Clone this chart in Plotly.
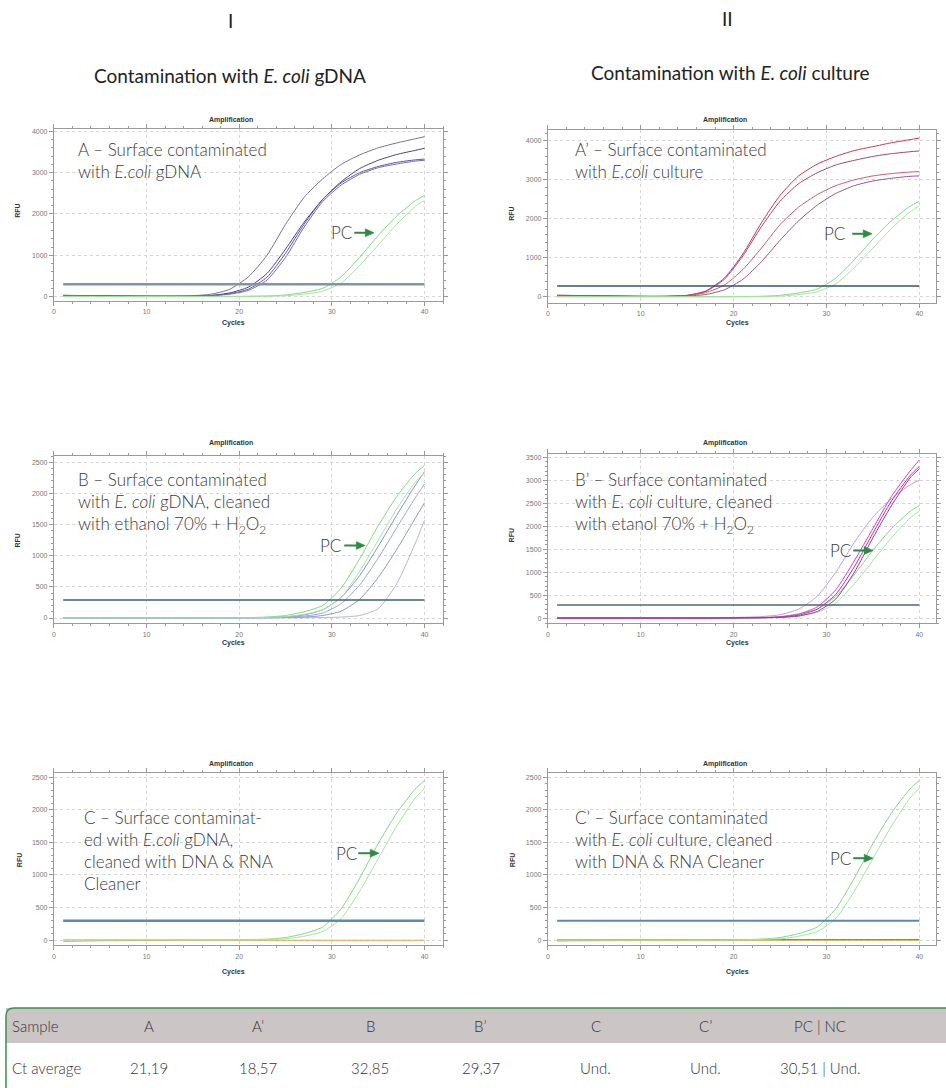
import plotly.graph_objects as go

W, H = 946, 1088

# ---------------- data ----------------
cycles = [1, 3, 5, 7, 9, 11, 13, 15, 17, 19, 21, 23, 25, 27, 29, 31, 33, 35, 37, 39, 40]

# positive control (same in every run)
pc_1 = [5, 5, 5, 5, 5, 5, 5, 5, 5, 5, 8, 15, 40, 100, 200, 480, 950, 1480, 1950, 2320, 2450]
pc_2 = [3, 3, 3, 3, 3, 3, 3, 3, 3, 3, 5, 10, 20, 60, 130, 330, 750, 1250, 1750, 2180, 2330]

# A - gDNA contaminated
a_1 = [30, 25, 20, 15, 12, 10, 10, 20, 60, 180, 480, 1000, 1750, 2400, 2850, 3200, 3430, 3600, 3720, 3820, 3870]
a_2 = [30, 25, 20, 15, 12, 10, 10, 12, 30, 90, 230, 560, 1150, 1800, 2350, 2780, 3100, 3300, 3440, 3540, 3590]
a_3 = [25, 22, 18, 14, 10, 8, 8, 10, 25, 70, 180, 470, 1050, 1750, 2350, 2750, 3000, 3150, 3250, 3310, 3330]
a_4 = [25, 22, 18, 14, 10, 8, 8, 10, 20, 60, 150, 400, 950, 1680, 2300, 2700, 2960, 3120, 3210, 3280, 3300]

# A' - culture contaminated
ap_1 = [40, 35, 30, 22, 15, 12, 15, 40, 150, 480, 1100, 1900, 2600, 3100, 3400, 3600, 3750, 3850, 3950, 4030, 4070]
ap_2 = [40, 35, 30, 22, 15, 12, 15, 38, 140, 450, 1050, 1800, 2450, 2900, 3180, 3380, 3500, 3600, 3670, 3720, 3740]
ap_3 = [30, 28, 25, 20, 15, 12, 14, 30, 110, 300, 700, 1250, 1850, 2300, 2620, 2850, 3000, 3100, 3160, 3200, 3210]
ap_4 = [30, 28, 25, 20, 15, 12, 14, 25, 60, 180, 450, 900, 1450, 1950, 2350, 2650, 2850, 2970, 3040, 3090, 3100]

# B - gDNA, ethanol + H2O2
b_1 = [5, 5, 5, 5, 5, 5, 5, 5, 5, 5, 5, 10, 20, 50, 130, 330, 680, 1150, 1650, 2130, 2350]
b_2 = [4, 4, 4, 4, 4, 4, 4, 4, 4, 4, 4, 6, 12, 30, 80, 230, 530, 960, 1450, 1930, 2150]
b_3 = [3, 3, 3, 3, 3, 3, 3, 3, 3, 3, 3, 4, 8, 15, 40, 110, 300, 650, 1100, 1600, 1850]
b_4 = [2, 2, 2, 2, 2, 2, 2, 2, 2, 2, 2, 2, 3, 5, 8, 15, 40, 150, 550, 1200, 1570]

# B' - culture, ethanol + H2O2
bp_1 = [10, 10, 10, 10, 10, 10, 10, 10, 10, 15, 25, 40, 80, 200, 480, 1000, 1650, 2200, 2600, 2900, 3000]
bp_2 = [10, 10, 10, 10, 10, 10, 10, 10, 10, 12, 15, 20, 35, 90, 250, 620, 1250, 1950, 2650, 3200, 3440]
bp_3 = [8, 8, 8, 8, 8, 8, 8, 8, 8, 10, 12, 16, 28, 70, 200, 520, 1120, 1850, 2550, 3100, 3300]
bp_4 = [6, 6, 6, 6, 6, 6, 6, 6, 6, 8, 10, 13, 22, 50, 150, 420, 1000, 1750, 2450, 3050, 3250]

# C / C' - cleaned with DNA & RNA Cleaner (no amplification)
c_1 = [-20, -15, -10, -8, -6, -5, -4, -4, -3, -3, -2, -2, -2, -2, -2, -2, -2, -2, -2, -2, -2]
cp_1 = [-15, -12, -10, -8, -6, -5, -4, -4, -3, -3, -2, -2, -2, -2, -2, -2, -2, -2, -2, -2, -2]
cp_2 = [5, 5, 5, 5, 5, 5, 5, 5, 5, 5, 5, 5, 5, 5, 5, 5, 5, 5, 5, 5, 5]

# thresholds (RFU) per panel A, A', B, B', C, C'
thresholds = [300, 280, 290, 290, 296, 296]
thr_cycles = [1, 40]

# table
table_header = ["Sample", "A", "A\u2019", "B", "B\u2019", "C", "C\u2019", "PC | NC"]
table_ct = ["Ct average", "21,19", "18,57", "32,85", "29,37", "Und.", "Und.", "30,51 | Und."]

# ---------------- layout helpers ----------------
def fx(px):
    return px / W


def fy(py):
    return 1 - py / H


GREEN1, GREEN2 = "#7fd87f", "#a4e4a0"

panels = [
    dict(x0=52, x1=442, y0=128, y1=300, xr=[0, 42], yr=[-100, 4060], ydt=1000, ymn=200,
         thr_col="#7d95ad", thr_w=2.5,
         series=[(a_1, "#7b6e9e"), (a_2, "#4a3f8a"), (a_3, "#5e50a8"), (a_4, "#7566b4"),
                 (pc_1, GREEN1), (pc_2, GREEN2)]),
    dict(x0=547, x1=936, y0=129, y1=302, xr=[0, 41.8], yr=[-150, 4280], ydt=1000, ymn=200,
         thr_col="#35566a", thr_w=1.5,
         series=[(ap_1, "#c8384f"), (ap_2, "#a24672"), (ap_3, "#d25868"), (ap_4, "#925690"),
                 (pc_1, GREEN1), (pc_2, GREEN2)]),
    dict(x0=52, x1=442, y0=455, y1=623, xr=[0, 42], yr=[-87, 2607], ydt=500, ymn=100,
         thr_col="#3c6070", thr_w=1.5,
         series=[(b_4, "#b8b4d8"), (b_3, "#8a94d8"), (b_2, "#9aa2e8"), (b_1, "#7f8fe0"),
                 (pc_1, GREEN1), (pc_2, GREEN2)]),
    dict(x0=547, x1=936, y0=453, y1=623, xr=[0, 41.8], yr=[-109, 3580], ydt=500, ymn=100,
         thr_col="#4a6a78", thr_w=1.5,
         series=[(pc_1, GREEN1), (pc_2, GREEN2), (bp_1, "#c79ad8"), (bp_2, "#d43fc8"),
                 (bp_3, "#c02cb0"), (bp_4, "#8e3d9e")]),
    dict(x0=52, x1=442, y0=773, y1=945, xr=[0, 42], yr=[-77, 2560], ydt=500, ymn=100,
         thr_col="#5d8aa5", thr_w=2.5,
         series=[(c_1, "#e6a23c"), (pc_1, GREEN1), (pc_2, GREEN2)]),
    dict(x0=547, x1=936, y0=773, y1=945, xr=[0, 41.8], yr=[-77, 2560], ydt=500, ymn=100,
         thr_col="#5d8aa5", thr_w=2,
         series=[(cp_2, "#333333"), (cp_1, "#e0c040"), (pc_1, GREEN1), (pc_2, GREEN2)]),
]

fig = go.Figure()
layout = dict(width=W, height=H, margin=dict(l=0, r=0, t=0, b=0),
              paper_bgcolor="white", plot_bgcolor="white", showlegend=False)

TICKFONT = dict(family="Liberation Sans, Arial", size=7, color="#777")

for i, p in enumerate(panels):
    k = "" if i == 0 else str(i + 1)
    xa, ya = "x" + k, "y" + k
    for ys, col in p["series"]:
        fig.add_trace(go.Scatter(x=cycles, y=ys, mode="lines", xaxis=xa, yaxis=ya,
                                 line=dict(color=col, width=1, shape="spline", smoothing=0.6),
                                 hoverinfo="skip"))
    fig.add_trace(go.Scatter(x=thr_cycles, y=[thresholds[i], thresholds[i]], mode="lines",
                             xaxis=xa, yaxis=ya,
                             line=dict(color=p["thr_col"], width=p["thr_w"]), hoverinfo="skip"))
    layout["xaxis" + k] = dict(
        domain=[fx(p["x0"]), fx(p["x1"])], anchor=ya, range=p["xr"],
        tickmode="array", tickvals=[0, 10, 20, 30, 40], ticks="outside", ticklen=4,
        tickcolor="#999", tickfont=TICKFONT,
        minor=dict(dtick=2, tick0=0, ticks="outside", ticklen=2, tickcolor="#999", showgrid=False),
        showgrid=True, gridcolor="#d6d6d6", griddash="dot", gridwidth=1,
        showline=True, linecolor="#9a9a9a", linewidth=1, mirror="ticks", zeroline=False,
    )
    layout["yaxis" + k] = dict(
        domain=[fy(p["y1"]), fy(p["y0"])], anchor=xa, range=p["yr"],
        tick0=0, dtick=p["ydt"], ticks="outside", ticklen=4, tickcolor="#999",
        tickfont=TICKFONT,
        minor=dict(dtick=p["ymn"], tick0=0, ticks="outside", ticklen=2, tickcolor="#999", showgrid=False),
        showgrid=True, gridcolor="#d6d6d6", griddash="dot", gridwidth=1,
        showline=True, linecolor="#9a9a9a", linewidth=1, mirror="ticks", zeroline=False,
    )

annotations = []
shapes = []

SMALL = dict(family="Liberation Sans, Arial", size=7, color="#333")
LABEL = dict(family="Lato", size=17, color="#3a3a3a", weight=300)
HEAD = dict(family="Lato", size=19, color="#222")


def ann(text, x, y, font, xanchor="center", yanchor="middle", **kw):
    annotations.append(dict(text=text, x=fx(x), y=fy(y), xref="paper", yref="paper",
                            xanchor=xanchor, yanchor=yanchor, showarrow=False, font=font,
                            align="left", **kw))


# headers
ann("I", 229, 20, dict(family="Lato", size=19, color="#222"))
ann("II", 727, 18, dict(family="Lato", size=19, color="#222"))
ann("Contamination with <i>E. coli</i> gDNA", 228, 75, HEAD)
ann("Contamination with <i>E. coli</i> culture", 730, 72, HEAD)

# small chart texts
amp_pos = [(229, 119), (725, 119), (229, 442), (725, 442), (229, 764), (725, 764)]
rfu_pos = [(16, 210), (511, 213), (16, 540), (511, 535), (17, 860), (511, 860)]
cyc_pos = [(232, 322), (737, 322), (232, 643), (737, 643), (232, 972), (737, 972)]
for (ax_, ay_), (rx, ry), (cx, cy) in zip(amp_pos, rfu_pos, cyc_pos):
    ann("<b>Amplification</b>", ax_, ay_, SMALL)
    ann("<b>RFU</b>", rx, ry, SMALL, textangle=-90)
    ann("<b>Cycles</b>", cx, cy, SMALL)

# panel descriptions
ann("A \u2013 Surface contaminated<br>with <i>E.coli</i> gDNA", 74, 136, LABEL, xanchor="left", yanchor="top")
ann("A\u2019 \u2013 Surface contaminated<br>with <i>E.coli</i> culture", 572, 136, LABEL, xanchor="left", yanchor="top")
ann("B \u2013 Surface contaminated<br>with <i>E. coli</i> gDNA, cleaned<br>with ethanol 70% + H<sub>2</sub>O<sub>2</sub>",
    74, 466, LABEL, xanchor="left", yanchor="top")
ann("B\u2019 \u2013 Surface contaminated<br>with <i>E. coli</i> culture, cleaned<br>with etanol 70% + H<sub>2</sub>O<sub>2</sub>",
    572, 466, LABEL, xanchor="left", yanchor="top")
ann("C \u2013 Surface contaminat-<br>ed with <i>E.coli</i> gDNA,<br>cleaned with DNA & RNA<br>Cleaner",
    80, 805, LABEL, xanchor="left", yanchor="top")
ann("C\u2019 \u2013 Surface contaminated<br>with <i>E. coli</i> culture, cleaned<br>with DNA & RNA Cleaner",
    572, 805, LABEL, xanchor="left", yanchor="top")

# PC labels with arrows (arrows drawn as shapes)
ARROW = "#2e8b43"
pc_labels = [(340, 232, 353, 373), (834, 233, 852, 872), (329, 545, 343, 364),
             (840, 550, 853, 873), (345, 853, 357, 378), (840, 858, 853, 873)]
for tx, ty, t0, t1 in pc_labels:
    ann("PC", tx, ty, dict(family="Lato", size=17, color="#3a3a3a", weight=300))
    shapes.append(dict(type="line", xref="paper", yref="paper", x0=fx(t0), x1=fx(t1 - 7),
                       y0=fy(ty), y1=fy(ty), line=dict(color=ARROW, width=2)))
    tri = f"M {fx(t1 - 9)},{fy(ty - 4)} L {fx(t1)},{fy(ty)} L {fx(t1 - 9)},{fy(ty + 4)} Z"
    shapes.append(dict(type="path", xref="paper", yref="paper", path=tri,
                       fillcolor=ARROW, line=dict(color=ARROW, width=0.5)))

# table
TOP, MID, BOT = 1008, 1043, 1100
L, R, RAD = 4, 960, 8
shapes.append(dict(type="rect", xref="paper", yref="paper", x0=fx(L), x1=fx(R), y0=fy(MID), y1=fy(TOP),
                   fillcolor="#cbc5c5", line=dict(width=0), layer="below"))
path = (f"M {fx(R)},{fy(TOP)} L {fx(L + RAD)},{fy(TOP)} "
        f"Q {fx(L)},{fy(TOP)} {fx(L)},{fy(TOP + RAD)} "
        f"L {fx(L)},{fy(BOT)}")
shapes.append(dict(type="path", xref="paper", yref="paper", path=path,
                   line=dict(color="#3f8f4f", width=1.5)))

TABLE_FONT = dict(family="Lato", size=15, color="#333", weight=300)
col_x = [8, 147, 257, 369, 480, 595, 705, 820]
for j, (hx, h, v) in enumerate(zip(col_x, table_header, table_ct)):
    xa_ = "left" if j == 0 else "center"
    ann(h, hx, 1026, TABLE_FONT, xanchor=xa_)
    ann(v, hx, 1068, TABLE_FONT, xanchor=xa_)

layout["annotations"] = annotations
layout["shapes"] = shapes
fig.update_layout(**layout)
fig.write_html("out.html", config={"displayModeBar": False},
               post_script="document.body.style.margin='0';document.body.style.overflow='hidden';")
